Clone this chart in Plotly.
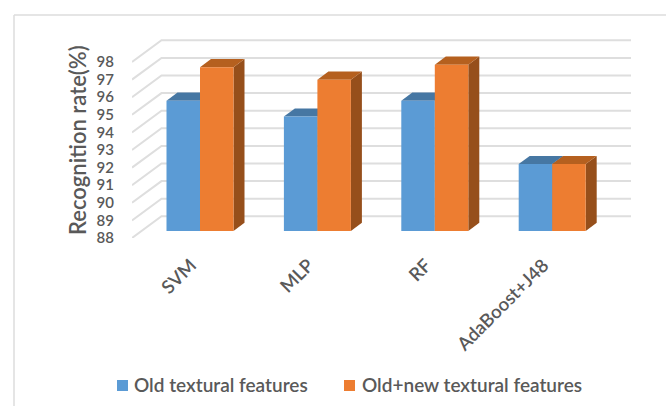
import plotly.graph_objects as go

categories = ["SVM", "MLP", "RF", "AdaBoost+J48"]
series_names = ["Old textural features", "Old+new textural features"]
old_features = [95.4, 94.5, 95.4, 91.8]
old_new_features = [97.3, 96.6, 97.45, 91.8]
y_ticks = [88, 89, 90, 91, 92, 93, 94, 95, 96, 97, 98]

WIDTH, HEIGHT = 666, 406
TEXT = "#595959"
GRID = "#dedede"
FRAME = "#dcdcdc"
BLUE, BLUE_TOP = "#5B9BD5", "#4677A3"
ORANGE, ORANGE_TOP, ORANGE_SIDE = "#ED7D31", "#B5601F", "#964F1B"
FONT = "Lato"

# Pixel geometry of the pseudo-3D box
X0_PX, X_UNIT = 200.0, 117.4          # centre of first category, pixels per category
LEFT_PX, RIGHT_PX = 132.0, 631.0
Y_BOTTOM_PX, Y_TOP_PX = 238.0, 62.0   # front corner of 88 and 98
Y_UNIT = (Y_BOTTOM_PX - Y_TOP_PX) / 10
BAR_W = 33.5 / X_UNIT
WALL_DX, WALL_DY = 29.5 / X_UNIT, 21.7 / Y_UNIT
BAR_DX, BAR_DY = 11 / X_UNIT, 8.2 / Y_UNIT
BAR_SHIFT = 7 / Y_UNIT                # bars stand part-way into the floor
BASE = y_ticks[0]

positions = list(range(len(categories)))
x_range = [(LEFT_PX - X0_PX) / X_UNIT, (RIGHT_PX - X0_PX) / X_UNIT]
# The axis runs on above 98 so the back wall's top lines are not clipped
y_top = y_ticks[-1] + WALL_DY + 0.15
y_range = [y_ticks[0], y_top]
shifted_range = [y_ticks[0] - BAR_SHIFT, y_top - BAR_SHIFT]


def face(xs, ys, color, axis):
    return go.Scatter(x=xs, y=ys, fill="toself", fillcolor=color, mode="none",
                      yaxis=axis, showlegend=False, hoverinfo="skip")


def px_x(v):
    return v / WIDTH


def px_y(v):
    return (HEIGHT - v) / HEIGHT


fig = go.Figure()

# Back wall and left-hand floor edges
wall_x, wall_y = [], []
for t in y_ticks:
    wall_x += [x_range[0], x_range[0] + WALL_DX, x_range[1], None]
    wall_y += [t, t + WALL_DY, t + WALL_DY, None]
fig.add_trace(go.Scatter(x=wall_x, y=wall_y, mode="lines",
                         line=dict(color=GRID, width=2),
                         showlegend=False, hoverinfo="skip"))

# Top and side faces of the columns, blue first so orange sits over it
for series, side, top, offset in ((old_features, BLUE_TOP, BLUE_TOP, -BAR_W),
                                  (old_new_features, ORANGE_SIDE, ORANGE_TOP, 0.0)):
    for p, v in zip(positions, series):
        left = p + offset
        right = left + BAR_W
        fig.add_trace(face([right, right + BAR_DX, right + BAR_DX, right],
                           [BASE, BASE + BAR_DY, v + BAR_DY, v], side, "y2"))
        fig.add_trace(face([left, right, right + BAR_DX, left + BAR_DX],
                           [v, v, v + BAR_DY, v + BAR_DY], top, "y2"))

# Front faces of the columns
for name, series, color in ((series_names[0], old_features, BLUE),
                            (series_names[1], old_new_features, ORANGE)):
    fig.add_trace(go.Bar(name=name, x=positions, y=[v - BASE for v in series], base=BASE,
                         marker=dict(color=color, line=dict(width=0)), yaxis="y3",
                         showlegend=False))

# Legend row: swatch and label placed by pixel
legend_shapes, legend_notes = [], []
for name, color, swatch_px, text_px in ((series_names[0], BLUE, 117, 132),
                                        (series_names[1], ORANGE, 344, 360)):
    legend_shapes.append(dict(type="rect", xref="paper", yref="paper", line=dict(width=0),
                              fillcolor=color, x0=px_x(swatch_px), x1=px_x(swatch_px + 11),
                              y0=px_y(391), y1=px_y(380)))
    legend_notes.append(dict(text=name, xref="paper", yref="paper", x=px_x(text_px), y=px_y(384),
                             xanchor="left", yanchor="middle", showarrow=False,
                             font=dict(size=19, weight=600, color=TEXT)))

domain = [(HEIGHT - Y_BOTTOM_PX) / HEIGHT,
          (HEIGHT - (Y_BOTTOM_PX - (y_top - y_ticks[0]) * Y_UNIT)) / HEIGHT]
hidden = dict(overlaying="y", range=shifted_range, visible=False)
fig.update_layout(
    width=WIDTH, height=HEIGHT, margin=dict(l=0, r=0, t=0, b=0, autoexpand=False),
    paper_bgcolor="white", plot_bgcolor="rgba(0,0,0,0)",
    barmode="group", bargap=1 - 2 * BAR_W, bargroupgap=0, showlegend=False,
    font=dict(family=FONT, color=TEXT, size=16),
    xaxis=dict(domain=[LEFT_PX / WIDTH, RIGHT_PX / WIDTH], range=x_range,
               tickvals=positions, ticktext=categories, tickangle=-45,
               tickfont=dict(size=18.5, weight=600), showgrid=False, zeroline=False,
               showline=False, ticks="", ticklabelstandoff=12, ticklabelshift=-9),
    yaxis=dict(domain=domain, range=y_range, tickvals=y_ticks, showgrid=False,
               zeroline=False, showline=False, ticks="", ticklabelstandoff=17,
               tickfont=dict(size=15, weight=600)),
    yaxis2=hidden, yaxis3=hidden,
    annotations=[dict(text="Recognition rate(%)", xref="paper", yref="paper",
                      x=px_x(77), y=px_y(140), xanchor="center", yanchor="middle",
                      textangle=-90, showarrow=False,
                      font=dict(size=22, weight=600, color=TEXT))] + legend_notes,
    shapes=[dict(type="line", xref="paper", yref="paper", x0=px_x(14), x1=1,
                 y0=px_y(15), y1=px_y(15), line=dict(color=FRAME, width=1.5)),
            dict(type="line", xref="paper", yref="paper", x0=px_x(14), x1=px_x(14),
                 y0=0, y1=px_y(15), line=dict(color=FRAME, width=1.5))] + legend_shapes,
)

fig.write_html("out.html", config=dict(displayModeBar=False))
